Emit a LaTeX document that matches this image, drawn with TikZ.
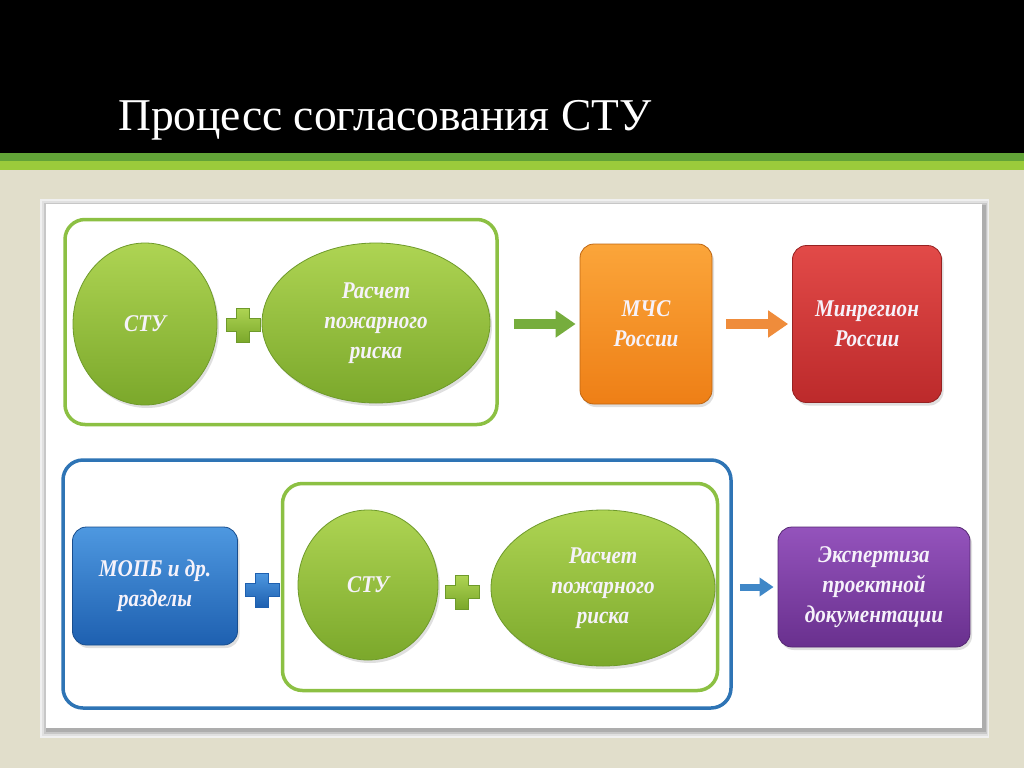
\documentclass[tikz,border=0pt]{standalone}
\usepackage{fontspec}
\setmainfont{Liberation Serif}
\newfontfamily\lblfont[FakeStretch=0.88]{Liberation Serif}
\usetikzlibrary{arrows.meta,shapes.geometric,shadows}
\definecolor{dkgreen}{HTML}{62A337}
\definecolor{ltgreen}{HTML}{9BCB3B}
\definecolor{beige}{HTML}{E1DECB}
\definecolor{grpgreen}{HTML}{8CC043}
\definecolor{grpblue}{HTML}{2E74B5}
\definecolor{gtop}{HTML}{AED453}
\definecolor{gbot}{HTML}{7BA82B}
\definecolor{gedge}{HTML}{6E9A2A}
\definecolor{otop}{HTML}{FBA53A}
\definecolor{obot}{HTML}{EE7F16}
\definecolor{rtop}{HTML}{E24A48}
\definecolor{rbot}{HTML}{BC2A2B}
\definecolor{btop}{HTML}{4E98E0}
\definecolor{bbot}{HTML}{1E60B0}
\definecolor{ptop}{HTML}{9453BC}
\definecolor{pbot}{HTML}{69308E}
\definecolor{garr}{HTML}{76AD3D}
\definecolor{oarr}{HTML}{EF8C3B}
\definecolor{barr}{HTML}{3F87C7}
\definecolor{txt}{HTML}{F6F2FA}
\begin{document}
\begin{tikzpicture}[x=1pt,y=-1pt,
  lbl/.style={text=txt, align=center, font=\lblfont\fontsize{24}{30}\selectfont\bfseries\itshape, inner sep=0pt},
  shad/.style={drop shadow={opacity=0.25, shadow xshift=2pt, shadow yshift=-3pt}},
  gell/.style={lbl, ellipse, top color=gtop, bottom color=gbot, draw=gedge, line width=0.8pt, shad},
  rbox/.style={lbl, rectangle, rounded corners=14pt, line width=0.8pt, shad},
  grp/.style={rectangle, rounded corners=20pt, line width=3.5pt, inner sep=0pt},
  blockarrow/.style={line width=10pt, -{Triangle[width=26pt,length=20pt]}},
  smallarrow/.style={line width=7pt, -{Triangle[width=18pt,length=14pt]}},
  plus/.pic={\path[pic actions] (-17,-6.5) -- (-6.5,-6.5) -- (-6.5,-17) -- (6.5,-17) -- (6.5,-6.5) -- (17,-6.5) -- (17,6.5) -- (6.5,6.5) -- (6.5,17) -- (-6.5,17) -- (-6.5,6.5) -- (-17,6.5) -- cycle;}
]
\useasboundingbox (0,0) rectangle (1024,768);
% background
\fill[black] (0,0) rectangle (1024,153);
\fill[dkgreen] (0,153) rectangle (1024,161);
\fill[ltgreen] (0,161) rectangle (1024,170);
\fill[beige] (0,170) rectangle (1024,768);
% panel with soft shadow
\fill[black!6] (40,199) rectangle (989,738);
\fill[black!12] (42,201) rectangle (988,736);
\fill[black!22] (44,203) rectangle (987,734);
\fill[black!32] (46,205) rectangle (986,732);
\fill[white] (46,204) rectangle (982,728);
% title
\node[anchor=base west, inner sep=0pt, text=white, font=\fontsize{45.5}{52}\selectfont] (title) at (118,130) {Процесс согласования СТУ};

% top row
\node[grp, draw=grpgreen, minimum width=432pt, minimum height=205pt] (g1) at (281,322) {};
\node[gell, minimum width=144pt, minimum height=162pt] (stu1) at (145,324) {СТУ};
\pic[top color=gtop, bottom color=gbot, draw=gedge, line width=0.6pt] (p1) at (243,325) {plus};
\node[gell, minimum width=228pt, minimum height=160pt] (risk1) at (376,323) {Расчет\\пожарного\\риска};
\node[rbox, top color=otop, bottom color=obot, draw=obot!80!black, minimum width=132pt, minimum height=160pt] (mchs) at (646,324) {МЧС\\России};
\node[rbox, top color=rtop, bottom color=rbot, draw=rbot!80!black, minimum width=149pt, minimum height=157pt] (minreg) at (867,324) {Минрегион\\России};
\draw[blockarrow, garr, shorten <=15pt, shorten >=4pt] (g1.east |- mchs.west) -- (mchs.west);
\draw[blockarrow, oarr, shorten <=14pt, shorten >=4pt] (mchs.east) -- (minreg.west);

% bottom row
\node[grp, draw=grpblue, minimum width=668pt, minimum height=248pt] (g2) at (397,584) {};
\node[grp, draw=grpgreen, minimum width=435pt, minimum height=207pt] (g3) at (500,587) {};
\node[rbox, top color=btop, bottom color=bbot, draw=bbot!80!black, minimum width=165pt, minimum height=118pt] (mopb) at (155,586) {МОПБ и др.\\разделы};
\pic[top color=btop, bottom color=bbot, draw=bbot, line width=0.6pt] (p2) at (262,590) {plus};
\node[gell, minimum width=140pt, minimum height=150pt] (stu2) at (368,585) {СТУ};
\pic[top color=gtop, bottom color=gbot, draw=gedge, line width=0.6pt] (p3) at (462,592) {plus};
\node[gell, minimum width=224pt, minimum height=156pt] (risk2) at (603,588) {Расчет\\пожарного\\риска};
\node[rbox, top color=ptop, bottom color=pbot, draw=pbot!80!black, minimum width=192pt, minimum height=120pt] (exp) at (874,587) {Экспертиза\\проектной\\документации};
\draw[smallarrow, barr, shorten <=7pt, shorten >=4pt] (g2.east |- exp.west) -- (exp.west);
\end{tikzpicture}
\end{document}
